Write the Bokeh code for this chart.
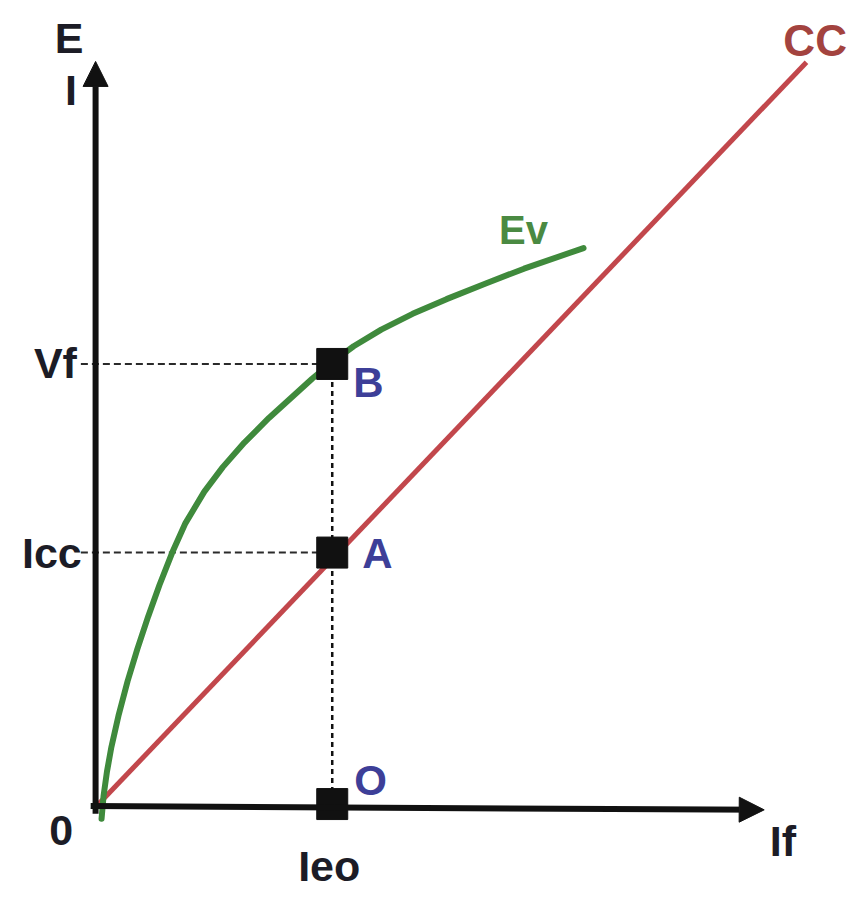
from bokeh.plotting import figure
from bokeh.models import Range1d, Arrow, NormalHead
from bokeh.core.properties import value
from bokeh.embed import file_html
from bokeh.resources import INLINE

# ---- data (If in units of Ieo, E/I in units of Icc) ----
ieo = 1.0
icc = 1.0
vf = 1.75

# open-circuit (Ev) curve
ev_x = [0.0126, 0.0210, 0.0357, 0.0546, 0.0861, 0.1239, 0.1660, 0.2122, 0.2605, 0.3151,
        0.3718, 0.4525, 0.5315, 0.6239, 0.7290, 0.8445, 0.9139, 0.9895, 1.0916, 1.2097,
        1.3441, 1.4891, 1.6571, 1.8210, 2.0756]
ev_y = [-0.0586, 0.0313, 0.1289, 0.2266, 0.3555, 0.4883, 0.6172, 0.7461, 0.8711, 1.0000,
        1.1172, 1.2422, 1.3398, 1.4375, 1.5352, 1.6328, 1.6914, 1.7500, 1.8203, 1.8867,
        1.9492, 2.0078, 2.0703, 2.1289, 2.2109]

# short-circuit (CC) straight line
cc_x = [0.0, 3.03]
cc_y = [0.0, 2.95]

# axis extents
yaxis_x = -0.013
yaxis_y = [-0.039, 2.953]
xaxis_x = [-0.034, 2.849]
xaxis_y = [-0.008, -0.023]
dash_start = -0.076

# labels
blk_labels = ["E", "I", "Vf", "Icc", "0", "Ieo", "If"]
blk_x = [-0.126, -0.118, -0.185, -0.200, -0.160, 0.987, 2.929]
blk_y = [3.047, 2.840, 1.755, 1.000, -0.105, -0.248, -0.145]

pt_labels = ["B", "A", "O"]
pt_x = [1.155, 1.193, 1.164]
pt_y = [1.676, 0.996, 0.094]

sq_x = [ieo, ieo, ieo]
sq_y = [vf, icc, 0.0]

W, H = 851, 889
p = figure(width=W, height=H, output_backend="svg", toolbar_location=None,
           x_range=Range1d(-0.420, 3.2227), y_range=Range1d(-0.3398, 3.1953),
           min_border=0, outline_line_color=None)
p.axis.visible = False
p.grid.visible = False
p.background_fill_color = "white"
p.border_fill_color = "white"

FONT = value("Liberation Sans")

# dashed guide lines
p.line([dash_start, ieo], [vf, vf], line_color="#2a2a2a", line_width=2, line_dash="7 4")
p.line([dash_start, ieo], [icc, icc], line_color="#2a2a2a", line_width=2, line_dash="7 4")
p.line([ieo, ieo], [vf, 0.0], line_color="#111111", line_width=2.5, line_dash="5 4")

# curves
p.line(cc_x, cc_y, line_color="#c2474c", line_width=5)
p.line(ev_x, ev_y, line_color="#3f8a3c", line_width=6, line_cap="round", line_join="round")

# axes as arrows
p.add_layout(Arrow(end=NormalHead(size=25, fill_color="#111111", line_color="#111111"),
                   x_start=yaxis_x, y_start=yaxis_y[0], x_end=yaxis_x, y_end=yaxis_y[1],
                   line_color="#111111", line_width=6))
p.add_layout(Arrow(end=NormalHead(size=25, fill_color="#111111", line_color="#111111"),
                   x_start=xaxis_x[0], y_start=xaxis_y[0], x_end=xaxis_x[1], y_end=xaxis_y[1],
                   line_color="#111111", line_width=6))

# square markers
p.scatter(sq_x, sq_y, marker="square", size=31, fill_color="#111111", line_color="#111111")

# labels
p.text(blk_x, blk_y, text=blk_labels, text_font=FONT, text_font_style="bold",
       text_font_size="43px", text_color="#1c1c26", text_align="center", text_baseline="middle")
p.text(pt_x, pt_y, text=pt_labels, text_font=FONT, text_font_style="bold",
       text_font_size="42px", text_color="#3d3f98", text_align="center", text_baseline="middle")
p.text([1.819], [2.281], text=["Ev"], text_font=FONT, text_font_style="bold",
       text_font_size="40px", text_color="#4a8a42", text_align="center", text_baseline="middle")
p.text([3.067], [3.035], text=["CC"], text_font=FONT, text_font_style="bold",
       text_font_size="44px", text_color="#a3433f", text_align="center", text_baseline="middle")

open("out.html", "w").write(file_html(p, INLINE))
